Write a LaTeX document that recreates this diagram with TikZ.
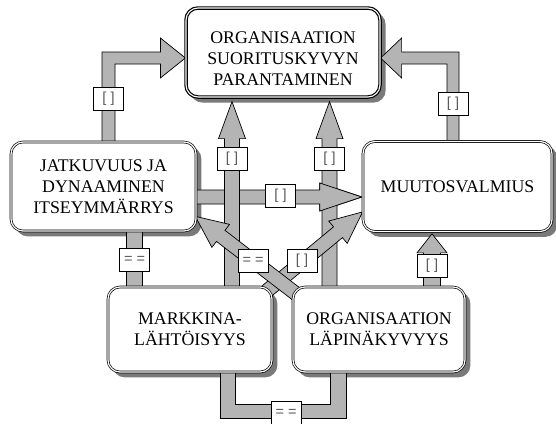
\documentclass[tikz,border=0pt]{standalone}
\usepackage{fontspec}
\setmainfont{Liberation Serif}
\setsansfont{Liberation Sans}
\usetikzlibrary{calc}

\pgfdeclarelayer{shadowlayer}
\pgfdeclarelayer{arrowlayer}
\pgfsetlayers{shadowlayer,arrowlayer,main}

\definecolor{arrowgray}{HTML}{B4B4B4}
\definecolor{shadowgray}{HTML}{7A7A7A}
\definecolor{tagtext}{HTML}{5A5A5A}

\tikzset{
  boxfont/.style={font=\fontsize{17.8}{21}\selectfont},
  conceptbox/.style={draw, double, line width=0.7pt, double distance=1.2pt,
    rounded corners=12pt, fill=white, align=center, inner sep=0pt, boxfont},
  goalbox/.style={conceptbox, line width=1.2pt, double distance=1.1pt},
  boxshade/.style={fill=shadowgray, rounded corners=12pt},
  arrowbody/.style={fill=arrowgray, draw=black, line width=0.7pt, line join=miter},
  tag/.style={draw, fill=white, line width=0.7pt, minimum width=30pt,
    minimum height=23pt, inner sep=0pt,
    font=\sffamily\fontsize{14.5}{14.5}\selectfont, text=tagtext},
}

% broad block arrow: tail, tip, half shaft width, half head width, head length
\newcommand\fatarrow[5]{%
  \filldraw[arrowbody] let \p1=(#1), \p2=(#2),
    \n1={atan2(\y2-\y1,\x2-\x1)},
    \n2={veclen(\x2-\x1,\y2-\y1)-#5}
  in ($(\p1)+(\n1+90:#3pt)$)
  -- ($(\p1)+(\n1:\n2)+(\n1+90:#3pt)$)
  -- ($(\p1)+(\n1:\n2)+(\n1+90:#4pt)$)
  -- (\p2)
  -- ($(\p1)+(\n1:\n2)+(\n1-90:#4pt)$)
  -- ($(\p1)+(\n1:\n2)+(\n1-90:#3pt)$)
  -- ($(\p1)+(\n1-90:#3pt)$) -- cycle;}

% drop shadow behind a concept box
\newcommand\castshadow[1]{%
  \fill[boxshade] ($(#1.north west)+(5,5)$) rectangle ($(#1.south east)+(5,5)$);}

\begin{document}
\begin{tikzpicture}[x=1pt,y=-1pt]
\useasboundingbox (0,0) rectangle (556,423);

% concept boxes
\node[goalbox, minimum width=194pt, minimum height=89pt] (goal) at (283,52.5) {};
\node[align=center, boxfont] (goaltext) at ($(goal.center)+(0,6)$)
  {ORGANISAATION\\SUORITUSKYVYN\\PARANTAMINEN};
\node[conceptbox, minimum width=185pt, minimum height=89pt] (cont) at (103.5,186.5)
  {JATKUVUUS JA\\DYNAAMINEN\\ITSEYMMÄRRYS};
\node[conceptbox, minimum width=189pt, minimum height=90pt] (change) at (457.5,186.5)
  {MUUTOSVALMIUS};
\node[conceptbox, minimum width=164pt, minimum height=85pt] (market) at (190,329.5)
  {MARKKINA-\\LÄHTÖISYYS};
\node[conceptbox, minimum width=172pt, minimum height=85pt] (transp) at (379,329.5)
  {ORGANISAATION\\LÄPINÄKYVYYS};

% connector tags
\node[tag] (t1) at (108.5,99) {[ ]};
\node[tag] (t2) at (453,104) {[ ]};
\node[tag] (t3) at (232,158.5) {[ ]};
\node[tag] (t4) at (329.5,158.5) {[ ]};
\node[tag] (t5) at (280.5,196) {[ ]};
\node[tag] (t6) at (134.5,260) {= =};
\node[tag] (t7) at (286,413) {= =};
\node[tag] (t8) at (432,266) {[ ]};
\node[tag] (t9) at (253,260.5) {= =};
\node[tag] (t10) at (302,260.5) {[ ]};

\begin{pgfonlayer}{shadowlayer}
  \foreach \b in {goal,cont,change,market,transp} {\castshadow{\b}}
\end{pgfonlayer}

\begin{pgfonlayer}{arrowlayer}
  % elbow arrow: continuity box -> goal
  \coordinate (e1s) at ($(t1 |- cont.north)+(0,6)$);
  \coordinate (e1t) at ($(goal.west)+(0,5.5)$);
  \filldraw[arrowbody] ($(e1s)+(-6.5,0)$) -- ($(e1s |- e1t)+(-6.5,-6)$)
    -- ($(e1t)+(-25,-6)$) -- ($(e1t)+(-25,-20)$) -- (e1t)
    -- ($(e1t)+(-25,20)$) -- ($(e1t)+(-25,6)$)
    -- ($(e1s |- e1t)+(6.5,6)$) -- ($(e1s)+(6.5,0)$) -- cycle;
  % elbow arrow: readiness box -> goal
  \coordinate (e2s) at ($(t2 |- change.north)+(0,6)$);
  \coordinate (e2t) at ($(goal.east)+(0,5.5)$);
  \filldraw[arrowbody] ($(e2s)+(6,0)$) -- ($(e2s |- e2t)+(6,-6)$)
    -- ($(e2t)+(21,-6)$) -- ($(e2t)+(21,-20)$) -- (e2t)
    -- ($(e2t)+(21,20)$) -- ($(e2t)+(21,6)$)
    -- ($(e2s |- e2t)+(-6,6)$) -- ($(e2s)+(-6,0)$) -- cycle;
  % plain link: continuity box <-> market box
  \filldraw[arrowbody] ($(t6 |- cont.south)+(-8,-6)$) rectangle ($(t6 |- market.north)+(8,6)$);
  % U link under the two lower boxes
  \coordinate (uL) at ($(market.south)+(37.5,-6)$);
  \coordinate (uR) at ($(transp.south)+(-40.5,-6)$);
  \filldraw[arrowbody] ($(uL)+(-7.5,0)$) -- ($(uL |- t7)+(-7.5,5)$)
    -- ($(uR |- t7)+(8,5)$) -- ($(uR)+(8,0)$) -- ($(uR)+(-8,0)$)
    -- ($(uR |- t7)+(-8,-9)$) -- ($(uL |- t7)+(7.5,-9)$) -- ($(uL)+(7.5,0)$) -- cycle;
  % horizontal arrow, passing under the two vertical shafts
  \coordinate (hs) at ($(cont.east)+(-6,10.5)$);
  \coordinate (ht) at ($(change.west)+(-1,10.5)$);
  \fatarrow{hs}{ht}{7}{14}{42}
  % vertical arrows
  \coordinate (v1s) at ($(t3 |- market.north)+(0,6)$);
  \coordinate (v1t) at ($(t3 |- goal.south)+(0,4)$);
  \fatarrow{v1s}{v1t}{7.5}{13.5}{37}
  \coordinate (v2s) at ($(t4 |- transp.north)+(0,6)$);
  \coordinate (v2t) at ($(t4 |- goal.south)+(0,4)$);
  \fatarrow{v2s}{v2t}{7.5}{13.5}{37}
  \coordinate (v3s) at ($(t8 |- transp.north)+(0,6)$);
  \coordinate (v3t) at ($(t8 |- change.south)+(0,2)$);
  \fatarrow{v3s}{v3t}{8.5}{15}{19}
  % head of the horizontal arrow lies over the right shaft
  \begin{scope}
    \clip ($(ht)+(-42.6,-20)$) rectangle ($(ht)+(3,20)$);
    \fatarrow{hs}{ht}{7}{14}{42}
  \end{scope}
  % crossing diagonal arrows
  \coordinate (d2s) at ($(market.north east)+(-16,13)$);
  \coordinate (d2t) at ($(change.south west)+(0,-20)$);
  \fatarrow{d2s}{d2t}{7}{14.5}{32}
  \coordinate (d1s) at ($(transp.north west)+(11,13)$);
  \coordinate (d1t) at ($(cont.south east)+(-1,-15)$);
  \fatarrow{d1s}{d1t}{7}{14.5}{32}
\end{pgfonlayer}
\end{tikzpicture}
\end{document}
